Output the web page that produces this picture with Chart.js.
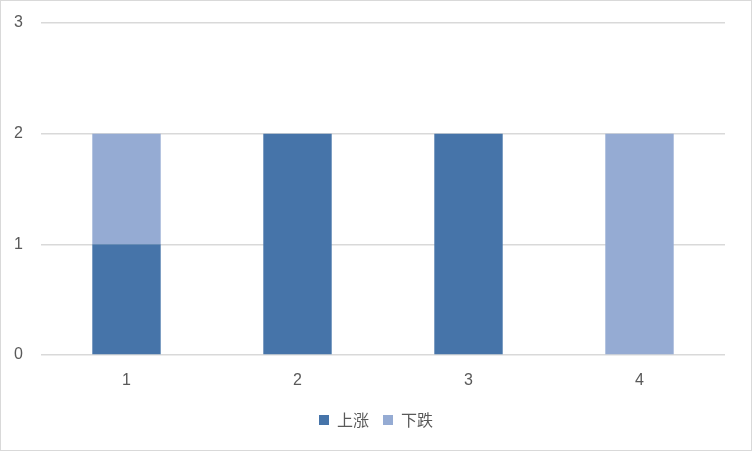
<!DOCTYPE html>
<html>
<head>
<meta charset="utf-8">
<script src="https://cdn.jsdelivr.net/npm/chart.js@4"></script>
<style>
  html, body { margin: 0; padding: 0; background: #fff; }
  #wrap { width: 750px; height: 449px; border: 1px solid #d9d9d9; }
</style>
</head>
<body>
<div id="wrap"><canvas id="grafico"></canvas></div>
<script>
// datos del gráfico
const categorias = ['1', '2', '3', '4'];
const sube = [1, 2, 2, 0];
const baja = [1, 0, 0, 2];
const nombres = ['上涨', '下跌'];

let ctx = document.getElementById('grafico').getContext('2d');

let chart = new Chart(ctx, {
  type: 'bar',
  data: {
    labels: categorias,
    datasets: [{
      label: nombres[0],
      data: sube,
      backgroundColor: '#4674A9' // azul oscuro
    }, {
      label: nombres[1],
      data: baja,
      backgroundColor: '#95ABD3' // azul claro
    }]
  },
  options: {
    responsive: true,
    maintainAspectRatio: false,
    animation: false,
    layout: { padding: { top: 22, right: 0, left: 0, bottom: 12 } },
    datasets: { bar: { categoryPercentage: 1, barPercentage: 0.4 } },
    scales: {
      x: {
        stacked: true,
        grid: { display: false },
        border: { display: false },
        ticks: { color: '#595959', font: { family: 'Liberation Sans', size: 16 }, padding: 8 },
        afterFit: s => { s.height = 43; }
      },
      y: {
        stacked: true,
        min: 0, max: 3,
        grid: { color: '#d9d9d9', lineWidth: 1.5, drawTicks: false },
        border: { display: false },
        ticks: { stepSize: 1, color: '#595959', font: { family: 'Liberation Sans', size: 16 }, padding: 18 },
        afterFit: s => { s.width = 40; s.paddingTop = 0; s.paddingBottom = 0; }
      },
      // eje vacío para dejar margen a la derecha
      margen: {
        position: 'right',
        min: 0, max: 3,
        grid: { display: false },
        border: { display: false },
        ticks: { display: false },
        afterFit: s => { s.width = 26; s.paddingTop = 0; s.paddingBottom = 0; }
      }
    },
    plugins: {
      legend: {
        position: 'bottom',
        labels: {
          boxWidth: 10, boxHeight: 10,
          color: '#595959',
          font: { family: 'Noto Sans CJK SC', size: 16 },
          padding: 14
        }
      },
      tooltip: { enabled: false }
    }
  }
});
</script>
</body>
</html>
